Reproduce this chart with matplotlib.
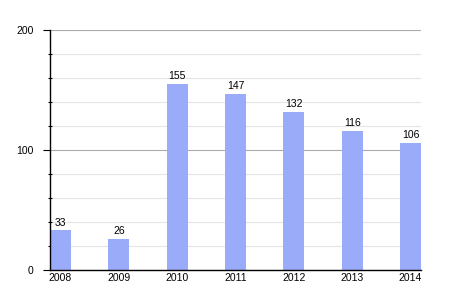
"""Bar chart of yearly counts, 2008-2014."""

import matplotlib

matplotlib.use("Agg")

import matplotlib.pyplot as plt
import numpy as np
from matplotlib.ticker import MultipleLocator

YEARS = ["2008", "2009", "2010", "2011", "2012", "2013", "2014"]
COUNTS = [33, 26, 155, 147, 132, 116, 106]

BAR_COLOR = "#9aabfa"

plt.rcParams["font.family"] = ["Liberation Sans", "DejaVu Sans"]

figure = plt.figure(figsize=(4.5, 3.0), dpi=100)
axis = figure.add_axes([50 / 450, 30 / 300, 371 / 450, 240 / 300])

positions = np.arange(len(YEARS))
bars = axis.bar(positions, COUNTS, width=0.36, color=BAR_COLOR, zorder=3)

for bar, value in zip(bars, COUNTS):
    axis.annotate(
        str(value),
        xy=(bar.get_x() + bar.get_width() / 2, bar.get_height()),
        xytext=(0, 2),
        textcoords="offset points",
        ha="center",
        va="bottom",
        fontsize=7.5,
    )

axis.set_xlim(-0.18, len(YEARS) - 1 + 0.18)
axis.set_ylim(0, 200)
axis.set_xticks(positions)
axis.set_xticklabels(YEARS)
axis.yaxis.set_major_locator(MultipleLocator(100))
axis.yaxis.set_minor_locator(MultipleLocator(20))

axis.grid(True, axis="y", which="minor", color="#e4e4e4", linewidth=0.8, zorder=0)
axis.grid(True, axis="y", which="major", color="#aaaaaa", linewidth=0.8, zorder=1)

for side in ("top", "right"):
    axis.spines[side].set_visible(False)
for side in ("left", "bottom"):
    axis.spines[side].set_color("black")
    axis.spines[side].set_linewidth(1.0)
    axis.spines[side].set_zorder(4)

axis.tick_params(axis="x", length=0, pad=2, labelsize=7.5)
axis.tick_params(axis="y", which="major", direction="out", length=5, width=0.8,
                 pad=7, labelsize=7.5)
axis.tick_params(axis="y", which="minor", direction="inout", length=3, width=0.8)

figure.savefig("out.png", dpi=100)
plt.close(figure)
